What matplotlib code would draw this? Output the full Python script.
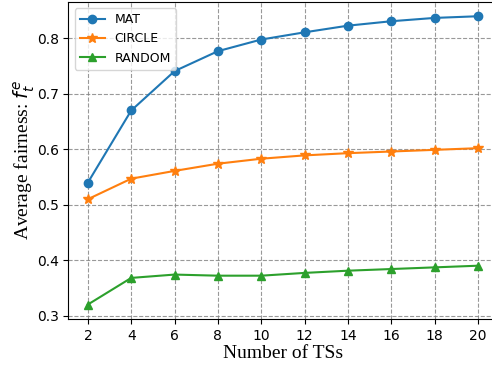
import numpy as np
import matplotlib.pyplot as plt

num_ts = [2, 4, 6, 8, 10, 12, 14, 16, 18, 20]
mat = [0.540, 0.670, 0.741, 0.777, 0.798, 0.811, 0.823, 0.831, 0.837, 0.840]
circle = [0.510, 0.547, 0.561, 0.574, 0.583, 0.589, 0.593, 0.596, 0.599, 0.602]
rand = [0.320, 0.368, 0.374, 0.372, 0.372, 0.377, 0.381, 0.384, 0.387, 0.390]

fig = plt.figure(figsize=(4.92, 3.67), dpi=100)
ax = fig.add_axes([0.139, 0.131, 0.872, 0.864])

ax.plot(num_ts, mat, marker='o', color='tab:blue', label='MAT')
ax.plot(num_ts, circle, marker='*', color='tab:orange', markersize=7, label='CIRCLE')
ax.plot(num_ts, rand, marker='^', color='tab:green', label='RANDOM')

ax.set_xticks(num_ts)
ax.grid(True, linestyle='--', color='gray', alpha=0.8)
ax.set_xlabel('Number of TSs', fontfamily='Liberation Serif', fontsize=14, labelpad=2)
ax.set_ylabel('Average fairness: $f_t^e$', fontfamily='Liberation Serif', fontsize=14, labelpad=0)
ax.legend(loc='upper left', fontsize=9)

fig.savefig('out.png', dpi=100)
